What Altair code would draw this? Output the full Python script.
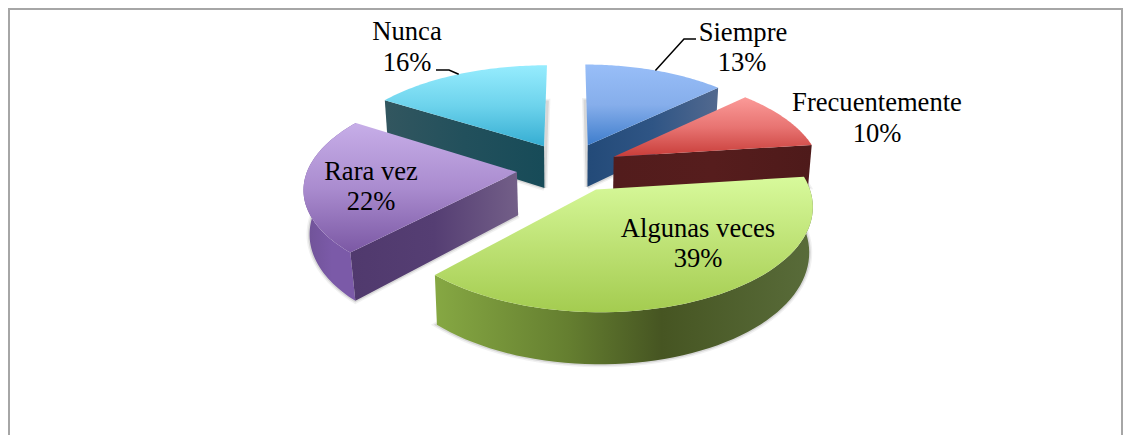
import math
import altair as alt
import pandas as pd

CATEGORIES = ["Siempre", "Frecuentemente", "Algunas veces", "Rara vez", "Nunca"]
VALUES = [13, 10, 39, 22, 16]

# top face gradients (top -> bottom), wall gradients (left -> right)
TOP_STOPS = {
    "Siempre": ["#98BEF8", "#86AEEB", "#3E7DCC"],
    "Frecuentemente": ["#FB9A98", "#E87472", "#C83D39"],
    "Algunas veces": ["#D8FA9C", "#BEE275", "#A4CC50"],
    "Rara vez": ["#C7AEE8", "#AA8CCF", "#7B58A4"],
    "Nunca": ["#96ECFE", "#6DD3EC", "#35ADD2"],
}
CUT_STOPS = {
    "Siempre": ["#234A78", "#2F5585", "#52698F"],
    "Frecuentemente": ["#521C1C", "#561D1D", "#4E1A1A"],
    "Rara vez": ["#50396D", "#553E73", "#735F88"],
    "Nunca": ["#32565F", "#22505C", "#174B58"],
}
OUTER_STOPS = {
    "Algunas veces": [(0, "#86A843"), (0.35, "#657F30"), (0.6, "#465522"), (1, "#596C3A")],
    "Rara vez": [(0, "#6F5296"), (0.5, "#7B5AA8"), (1, "#7B5AA8")],
}
# label centres on the page: first line y, second line y
LABEL_POS = {
    "Siempre": (743, 33, 63),
    "Frecuentemente": (877, 103, 134),
    "Algunas veces": (698, 229, 259),
    "Rara vez": (371, 172, 202),
    "Nunca": (407, 32, 63),
}
# leader knees for labels placed outside of the pie
LEADERS = {
    "Siempre": [(684, 39), (696, 39)],
    "Nunca": [(449, 70), (436, 70)],
}
DRAW_ORDER = ["Nunca", "Siempre", "Frecuentemente", "Rara vez", "Algunas veces"]

# pie projection
CX, CY, RX, RY, PERSP, EXPLODE, DEPTH = 568, 167, 205, 98, 0.143, 0.25, 43
# per-slice corrections: (horizontal radius factor, x shift, y shift, wall foot x factor)
SLICE_FIT = {
    "Siempre": (1.0, 0, 0, 0.985),
    "Frecuentemente": (1.01, 0, 0, 0.985),
    "Algunas veces": (1.01, 4, 0, 0.985),
    "Rara vez": (1.02, 0, 2, 0.977),
    "Nunca": (1.03, 0, 0, 0.985),
}
W, H = 1115, 427


def project(theta, mid, fit, r=1.0, bottom=False):
    rx, dx, dy, foot = fit
    x = r * rx * math.sin(theta) + EXPLODE * math.sin(mid)
    z = -r * math.cos(theta) - EXPLODE * math.cos(mid)
    s = 1 / (1 - PERSP * z)
    if bottom:
        return CX + dx + RX * x * s * foot, CY + dy + RY * z * s + DEPTH * s
    return CX + dx + RX * x * s, CY + dy + RY * z * s


def arc(t0, t1, mid, fit, bottom=False, n=60):
    return [project(t0 + (t1 - t0) * i / n, mid, fit, 1.0, bottom) for i in range(n + 1)]


xs = alt.Scale(domain=[8, 8 + W], range=[0, W], zero=False, nice=False)
ys = alt.Scale(domain=[8, 8 + H], range=[0, H], zero=False, nice=False)


def pos():
    return dict(
        x=alt.X("x:Q", scale=xs, axis=None),
        y=alt.Y("y:Q", scale=ys, axis=None),
        order=alt.Order("i:Q"),
    )


def frame(points):
    return pd.DataFrame({"x": [p[0] for p in points], "y": [p[1] for p in points], "i": range(len(points))})


def grad(stops, vertical):
    if not isinstance(stops[0], tuple):
        stops = [(k / (len(stops) - 1), c) for k, c in enumerate(stops)]
    return alt.LinearGradient(
        gradient="linear",
        stops=[alt.GradientStop(offset=o, color=c) for o, c in stops],
        x1=0, y1=0,
        x2=0 if vertical else 1,
        y2=1 if vertical else 0,
    )


def poly(points, stops, vertical):
    return alt.Chart(frame(points)).mark_line(
        fill=grad(stops, vertical), stroke="transparent", strokeWidth=0, clip=False
    ).encode(**pos())


angles = {}
c = 0.0
total = sum(VALUES)
for name, v in zip(CATEGORIES, VALUES):
    t0 = c / total * 2 * math.pi
    c += v
    t1 = c / total * 2 * math.pi
    angles[name] = (t0, t1, (t0 + t1) / 2)

layers = []

# frame
for fx, fy in [([9, 9], [8, 435]), ([8, 1123], [9, 9]), ([1122, 1122], [8, 435])]:
    layers.append(
        alt.Chart(frame(list(zip(fx, fy)))).mark_line(color="#A6A6A6", strokeWidth=2).encode(**pos())
    )

# soft shadow beneath each slice
for name in DRAW_ORDER:
    t0, t1, mid = angles[name]
    fit = SLICE_FIT[name]
    apex = project(0, mid, fit, 0.0, True)
    outline = [apex] + arc(t0, t1, mid, fit, True) + [apex]
    for width, op in [(6, 0.12), (3, 0.25)]:
        layers.append(
            alt.Chart(frame(outline)).mark_line(color="#8C8C8C", strokeWidth=width, opacity=op).encode(**pos())
        )

for name in DRAW_ORDER:
    t0, t1, mid = angles[name]
    fit = SLICE_FIT[name]
    apex_t = project(0, mid, fit, 0.0, False)
    apex_b = project(0, mid, fit, 0.0, True)
    if name in OUTER_STOPS:
        top_arc = arc(t0, t1, mid, fit)
        bot_arc = arc(t0, t1, mid, fit, True)
        layers.append(poly(top_arc + bot_arc[::-1], OUTER_STOPS[name], False))
    if name in CUT_STOPS:
        edge = t0 if name in ("Rara vez", "Nunca") else t1
        pa, pb = project(edge, mid, fit, 1.0, False), project(edge, mid, fit, 1.0, True)
        layers.append(poly([apex_t, pa, pb, apex_b], CUT_STOPS[name], False))
    layers.append(poly([apex_t] + arc(t0, t1, mid, fit), TOP_STOPS[name], True))

# leaders
for name, knee in LEADERS.items():
    t0, t1, mid = angles[name]
    pts = [project(mid, mid, SLICE_FIT[name], 1.0, False)] + knee
    layers.append(alt.Chart(frame(pts)).mark_line(color="#000000", strokeWidth=1.5).encode(**pos()))

# labels
rows = []
for name, v in zip(CATEGORIES, VALUES):
    lx, y1, y2 = LABEL_POS[name]
    rows.append({"x": lx, "y": y1, "t": name})
    rows.append({"x": lx - (1 if name == "Siempre" else 0), "y": y2, "t": f"{v}%"})
layers.append(
    alt.Chart(pd.DataFrame(rows)).mark_text(
        font="Liberation Serif", fontSize=26.6, color="#000000", baseline="middle", align="center"
    ).encode(
        x=alt.X("x:Q", scale=xs, axis=None),
        y=alt.Y("y:Q", scale=ys, axis=None),
        text="t:N",
    )
)

chart = alt.layer(*layers).properties(
    width=W, height=H, padding=0, background="#FFFFFF",
    autosize=alt.AutoSizeParams(type="none"),
).configure_view(stroke=None)

chart.save("out.html", embed_options={"renderer": "svg", "actions": False})
